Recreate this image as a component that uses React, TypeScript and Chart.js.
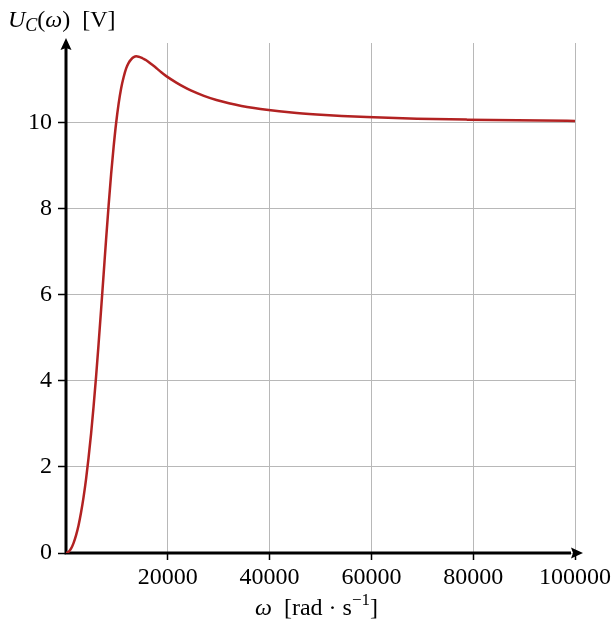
import React, { useEffect, useRef } from 'react';
import { Chart, registerables } from 'chart.js';

Chart.register(...registerables);

// Angular frequency ω [rad·s⁻¹]
const omega = [0, 490, 985, 1480, 1970, 2460, 2955, 3450, 3940, 4430, 4925, 5420, 5910, 6400, 6895, 7390, 7880, 8370, 8865, 9360, 9850, 10340, 10835, 11330, 11820, 12310, 12805, 13300, 13790, 14280, 14775, 15270, 15760, 16745, 17730, 18715, 19700, 21670, 23150, 24625, 27090, 29550, 32010, 34475, 36940, 39400, 44325, 49250, 54175, 59100, 68950, 78800, 88650, 98500, 100000];
// Capacitor voltage U_C(ω) [V]
const uC = [0, 0.025, 0.1, 0.23, 0.41, 0.64, 0.94, 1.3, 1.72, 2.21, 2.77, 3.41, 4.1, 4.86, 5.66, 6.48, 7.3, 8.08, 8.81, 9.45, 10.0, 10.45, 10.81, 11.07, 11.27, 11.4, 11.48, 11.53, 11.55, 11.54, 11.52, 11.49, 11.46, 11.37, 11.28, 11.18, 11.09, 10.94, 10.84, 10.75, 10.63, 10.534, 10.458, 10.397, 10.348, 10.307, 10.243, 10.198, 10.164, 10.138, 10.101, 10.078, 10.062, 10.05, 10.049];

const xTicks = [0, 20000, 40000, 60000, 80000, 100000];
const yTicks = [0, 2, 4, 6, 8, 10];

const FONT = '"Liberation Serif", "DejaVu Serif", serif';
const FS = 24;

type Run = { t: string; it?: boolean; s?: number; dy?: number };

function drawRuns(ctx: CanvasRenderingContext2D, runs: Run[], x: number, y: number, align: 'left' | 'center') {
  const fontOf = (r: Run) => `${r.it ? 'italic ' : ''}${r.s ?? FS}px ${FONT}`;
  let total = 0;
  for (const r of runs) {
    ctx.font = fontOf(r);
    total += ctx.measureText(r.t).width;
  }
  let cx = align === 'center' ? x - total / 2 : x;
  ctx.textBaseline = 'alphabetic';
  ctx.textAlign = 'left';
  ctx.fillStyle = '#000';
  for (const r of runs) {
    ctx.font = fontOf(r);
    ctx.fillText(r.t, cx, y + (r.dy ?? 0));
    cx += ctx.measureText(r.t).width;
  }
}

export default function App() {
  const ref = useRef<HTMLCanvasElement>(null);

  useEffect(() => {
    const canvas = ref.current!;
    const axesPlugin = {
      id: 'texAxes',
      beforeDatasetsDraw(chart: any) {
        const ctx: CanvasRenderingContext2D = chart.ctx;
        const x0 = chart.scales.x.getPixelForValue(0);
        const y0 = chart.scales.y.getPixelForValue(0);
        const top = chart.chartArea.top;
        const right = chart.chartArea.right;
        ctx.save();
        ctx.strokeStyle = '#000';
        ctx.fillStyle = '#000';
        ctx.lineWidth = 3;
        ctx.beginPath();
        ctx.moveTo(x0, y0 + 1.5);
        ctx.lineTo(x0, top + 5);
        ctx.moveTo(x0 - 1.5, y0);
        ctx.lineTo(right - 4, y0);
        ctx.stroke();
        // y arrow
        ctx.beginPath();
        ctx.moveTo(x0, top - 5);
        ctx.lineTo(x0 - 5.5, top + 7);
        ctx.lineTo(x0, top + 5);
        ctx.lineTo(x0 + 5.5, top + 7);
        ctx.closePath();
        ctx.fill();
        // x arrow
        ctx.beginPath();
        ctx.moveTo(right + 8, y0);
        ctx.lineTo(right - 4, y0 - 5.5);
        ctx.lineTo(right - 2, y0);
        ctx.lineTo(right - 4, y0 + 5.5);
        ctx.closePath();
        ctx.fill();
        ctx.restore();
      },
      afterDraw(chart: any) {
        const ctx: CanvasRenderingContext2D = chart.ctx;
        const ca = chart.chartArea;
        ctx.save();
        drawRuns(ctx, [
          { t: 'U', it: true },
          { t: 'C', it: true, s: 18, dy: 4 },
          { t: '(' },
          { t: 'ω', it: true },
          { t: ')  [V]' },
        ], 8, 27, 'left');
        drawRuns(ctx, [
          { t: 'ω', it: true },
          { t: '  [rad · s' },
          { t: '−1', s: 17, dy: -10 },
          { t: ']' },
        ], (ca.left + ca.right) / 2 - 4, 615, 'center');
        ctx.restore();
      },
    };

    const chart = new Chart(canvas, {
      type: 'line',
      data: {
        datasets: [
          {
            data: omega.map((x, i) => ({ x, y: uC[i] })),
            borderColor: '#b22222',
            borderWidth: 2.5,
            pointRadius: 0,
            cubicInterpolationMode: 'monotone',
            fill: false,
          },
        ],
      },
      options: {
        animation: false,
        responsive: false,
        devicePixelRatio: 1,
        layout: { padding: { left: 0, right: 39, top: 43, bottom: 0 } },
        plugins: { legend: { display: false }, tooltip: { enabled: false } },
        scales: {
          x: {
            type: 'linear',
            min: 0,
            max: 100000,
            afterBuildTicks: (s: any) => {
              s.ticks = xTicks.map((v) => ({ value: v }));
            },
            afterFit: (s: any) => {
              s.height = 74;
            },
            ticks: {
              callback: (v: any) => (v === 0 ? '' : String(v)),
              font: { family: FONT, size: FS },
              color: '#000',
              padding: 3,
              maxRotation: 0,
              autoSkip: false,
            },
            grid: {
              color: '#b8b8b8',
              lineWidth: 1,
              tickColor: (c: any) => (c.tick && c.tick.value === 0 ? 'rgba(0,0,0,0)' : '#000'),
              tickLength: 7,
              tickWidth: 1.5,
            },
            border: { display: false },
          },
          y: {
            type: 'linear',
            min: 0,
            max: 11.86,
            afterBuildTicks: (s: any) => {
              s.ticks = yTicks.map((v) => ({ value: v }));
            },
            afterFit: (s: any) => {
              s.width = 66;
            },
            ticks: {
              callback: (v: any) => String(v),
              font: { family: FONT, size: FS },
              color: '#000',
              padding: 6,
              autoSkip: false,
            },
            grid: { color: '#b8b8b8', lineWidth: 1, tickColor: '#000', tickLength: 8, tickWidth: 1.5 },
            border: { display: false },
          },
        },
      },
      plugins: [axesPlugin],
    } as any);
    return () => chart.destroy();
  }, []);

  return (
    <div style={{ position: 'absolute', left: 0, top: 0, width: 614, height: 627, background: '#fff' }}>
      <canvas ref={ref} width={614} height={627} style={{ display: 'block' }} />
    </div>
  );
}
